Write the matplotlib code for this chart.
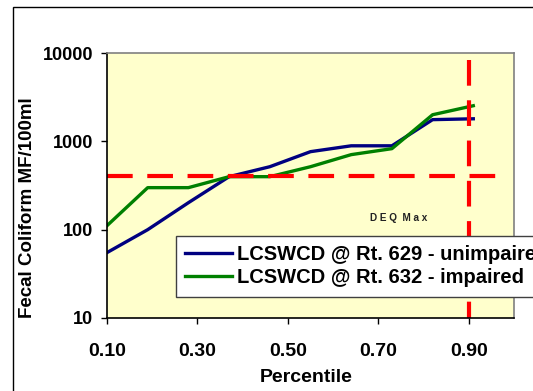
import matplotlib
matplotlib.use("Agg")
import matplotlib.pyplot as plt
from matplotlib.patches import Rectangle
from matplotlib.ticker import FixedLocator, NullLocator, FixedFormatter

plt.rcParams['font.family'] = ['Liberation Sans', 'DejaVu Sans']
plt.rcParams['lines.scale_dashes'] = False

percentile = [0.10, 0.19, 0.28, 0.37, 0.46, 0.55, 0.64, 0.73, 0.82, 0.91]
rt629 = [55, 100, 202, 398, 516, 764, 890, 890, 1760, 1800]
rt632 = [111, 299, 299, 398, 398, 516, 707, 826, 2000, 2530]
series_names = ["LCSWCD @ Rt. 629 - unimpaired", "LCSWCD @ Rt. 632 - impaired"]
deq_max = 400
deq_percentile = 0.90
x_ticks = [0.10, 0.30, 0.50, 0.70, 0.90]
x_tick_labels = ["0.10", "0.30", "0.50", "0.70", "0.90"]
y_ticks = [10, 100, 1000, 10000]
y_tick_labels = ["10", "100", "1000", "10000"]

W, H = 533, 391
fig = plt.figure(figsize=(W / 100, H / 100), dpi=100)
fig.patch.set_facecolor('white')

# outer chart frame
fig.patches.append(Rectangle((13 / W, -0.1), 1.2, (H - 7) / H + 0.1, transform=fig.transFigure,
                             fill=False, edgecolor='black', linewidth=1.0))

ax = fig.add_axes([107 / W, (H - 318) / H, 407 / W, 265 / H])
ax.set_facecolor('#FFFFCC')
ax.set_yscale('log')
ax.set_xlim(0.10, 1.00)
ax.set_ylim(10, 10000)

ax.plot(percentile, rt629, color='#000080', linewidth=2.4, label=series_names[0], solid_joinstyle='round')
ax.plot(percentile, rt632, color='#008000', linewidth=2.4, label=series_names[1], solid_joinstyle='round')

dash = (0, (18.5, 10.5))
ax.plot([0.10, 0.985], [deq_max, deq_max], color='#FF0000', linewidth=3.0, linestyle=dash)
ax.plot([deq_percentile, deq_percentile], [8330, 10], color='#FF0000', linewidth=3.0, linestyle=dash)

ax.text(0.745, 137, "D E Q  M a x", fontsize=7.2, fontweight='bold', ha='center', va='center', color='#222222')

ax.xaxis.set_major_locator(FixedLocator(x_ticks))
ax.xaxis.set_major_formatter(FixedFormatter(x_tick_labels))
ax.yaxis.set_major_locator(FixedLocator(y_ticks))
ax.yaxis.set_major_formatter(FixedFormatter(y_tick_labels))
ax.yaxis.set_minor_locator(NullLocator())
ax.xaxis.set_minor_locator(NullLocator())
ax.tick_params(axis='y', direction='out', length=4, width=1, color='black', labelsize=13, pad=6)
ax.tick_params(axis='x', direction='out', length=4, width=1, color='black', labelsize=14, pad=14)
for lab in ax.get_xticklabels() + ax.get_yticklabels():
    lab.set_fontweight('bold')

ax.spines['top'].set_color('#808080')
ax.spines['right'].set_color('#808080')
ax.spines['left'].set_color('black')
ax.spines['bottom'].set_color('black')
for s in ax.spines.values():
    s.set_linewidth(1.2)

fig.text(306 / W, 1 - 377 / H, "Percentile", fontsize=14, fontweight='bold', ha='center', va='center')
fig.text(28 / W, 1 - 208 / H, "Fecal Coliform MF/100ml", fontsize=13.5, fontweight='bold',
         ha='center', va='center', rotation=90)

leg = ax.legend(loc='upper left', bbox_to_anchor=(176 / W, 1 - 236 / H), bbox_transform=fig.transFigure,
                prop={'weight': 'bold', 'size': 14.5}, frameon=True, fancybox=False,
                handlelength=2.35, handletextpad=0.25, labelspacing=0.22, borderpad=0.45,
                borderaxespad=0, framealpha=1)
leg.get_frame().set_edgecolor('#404040')
leg.get_frame().set_linewidth(1.0)

fig.savefig('out.png', dpi=100)
